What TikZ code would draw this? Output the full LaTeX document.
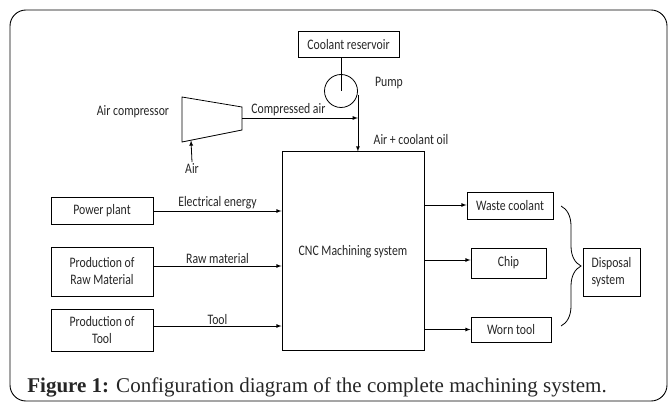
\documentclass[tikz,border=0pt]{standalone}
\usepackage{fontspec}
\setmainfont{Carlito}[FakeStretch=0.81]
\newfontfamily\capfont{Liberation Serif}
\usetikzlibrary{decorations.pathreplacing}

\begin{document}
\begin{tikzpicture}[x=1pt,y=-1pt]
\tikzset{>=latex, every path/.style={line width=0.8pt},
  lbl/.style={font=\fontsize{14.5}{17}\selectfont, text=black!85, inner sep=1.5pt},
  blk/.style={draw, lbl, align=center, inner sep=0pt, line width=1pt}}
\useasboundingbox (0,0) rectangle (668,403);
\draw[rounded corners=16pt, line width=0.9pt] (10,10) rectangle (667,401);

% supply side
\node[blk, minimum width=101pt, minimum height=26pt] (coolant) at (348.5,45) {Coolant reservoir};
\node[draw, circle, minimum size=33pt, inner sep=0pt] (pump) at (341,91) {};
\node[lbl] (pumplbl) at (389,83) {Pump};
\draw (182,97) -- (242,107) -- (242,130) -- (182,142) -- cycle;
\coordinate (comp) at (242,118);
\coordinate (compin) at (191,140.5);
\node[lbl] (complbl) at (133,112) {Air compressor};
\node[lbl] (air) at (192,169) {Air};
\node[lbl] (mixlbl) at (411,140) {Air + coolant oil};

% machining system and inputs
\node[blk, minimum width=142pt, minimum height=198pt] (cnc) at (353,251) {};
\node[lbl] (cnclbl) at (353,252) {CNC Machining system};
\node[blk, minimum width=102pt, minimum height=26pt] (power) at (102,211) {Power plant};
\node[blk, minimum width=102pt, minimum height=49pt] (raw) at (102,271.5) {Production of\\Raw Material};
\node[blk, minimum width=102pt, minimum height=42pt] (tool) at (102,330) {Production of\\Tool};

% outputs
\node[blk, minimum width=86pt, minimum height=26pt] (waste) at (510,206) {Waste coolant};
\node[blk, minimum width=75pt, minimum height=30pt] (chip) at (508.5,263) {Chip};
\node[blk, minimum width=80pt, minimum height=25pt] (worn) at (511,329.5) {Worn tool};
\node[blk, align=left, minimum width=57pt, minimum height=48pt] (disp) at (611.5,272) {Disposal\\system};

\draw (pump.center |- coolant.south) -- (pump.center);
\draw[->] (comp) -- node[lbl, above, pos=0.4] {Compressed air} (comp -| pump.east);
\draw[->] (air.north) -- (compin);
\draw[->] ([yshift=-4pt]pump.east) -- (pump.east |- cnc.north);

\draw[->] (power.east) -- node[lbl, above] {Electrical energy} (power.east -| cnc.west);
\draw[->] ([yshift=5.5pt]raw.east) -- node[lbl, above] {Raw material} ([yshift=5.5pt]raw.east -| cnc.west);
\draw[->] ([yshift=4pt]tool.east) -- node[lbl, above] {Tool} ([yshift=4pt]tool.east -| cnc.west);

\draw[->] (cnc.east |- 0,205) -- (waste.west |- 0,205);
\draw[->] (cnc.east |- 0,260) -- (chip.west |- 0,260);
\draw[->] (cnc.east |- worn.west) -- (worn.west);
\draw[decorate, decoration={brace, amplitude=20pt}] (561,206) -- (561,326);

\node[anchor=west, inner sep=0pt, text=black!85] (cap) at (27,387)
  {\capfont\fontsize{21}{24}\selectfont\textbf{Figure 1:} Configuration diagram of the complete machining system.};
\end{tikzpicture}
\end{document}
